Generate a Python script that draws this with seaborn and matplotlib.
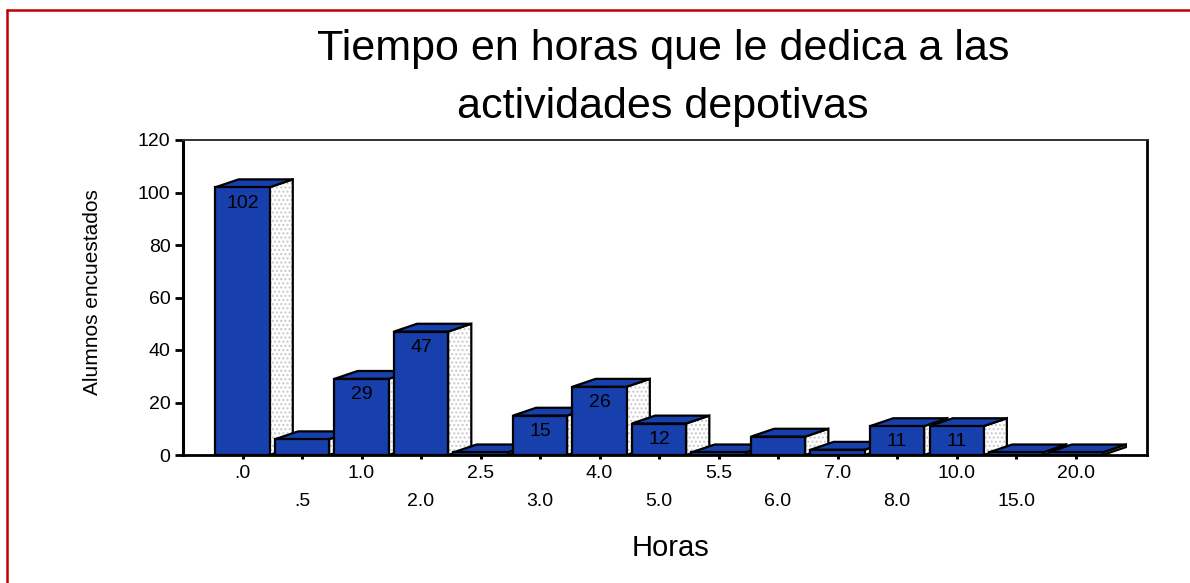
import matplotlib
matplotlib.use("Agg")
import matplotlib.pyplot as plt
from matplotlib.patches import Polygon
from matplotlib.lines import Line2D
import pandas as pd
import seaborn as sns

# --- data ---
horas = [".0", ".5", "1.0", "2.0", "2.5", "3.0", "4.0", "5.0",
         "5.5", "6.0", "7.0", "8.0", "10.0", "15.0", "20.0"]
alumnos = [102, 6, 29, 47, 1, 15, 26, 12, 1, 7, 2, 11, 11, 1, 1]
y_ticks = [0, 20, 40, 60, 80, 100, 120]

title = "Tiempo en horas que le dedica a las\nactividades depotivas"
x_label = "Horas"
y_label = "Alumnos encuestados"

BLUE = "#1740ac"

sns.set_style("white")
plt.rcParams["font.family"] = ["Liberation Sans", "DejaVu Sans"]
plt.rcParams["text.color"] = "black"
plt.rcParams["xtick.color"] = "black"
plt.rcParams["ytick.color"] = "black"

df = pd.DataFrame({"horas": horas, "alumnos": alumnos})

fig = plt.figure(figsize=(11.9, 5.83), dpi=100)
ax = fig.add_axes([183 / 1190, 1 - 455 / 583, 964 / 1190, 315 / 583])

sns.barplot(data=df, x="horas", y="alumnos", order=horas, color=BLUE,
            saturation=1, width=0.91, edgecolor="black", linewidth=1.6,
            errorbar=None, ax=ax)

# --- fake 3D: side and top faces for every bar ---
dx, dy = 0.39, 3.0
for i, p in enumerate(ax.patches):
    x0 = p.get_x()
    x1 = x0 + p.get_width()
    h = p.get_height()
    z = 3 + i * 0.1
    side = [(x1, 0), (x1 + dx, dy), (x1 + dx, h + dy), (x1, h)]
    top = [(x0, h), (x0 + dx, h + dy), (x1 + dx, h + dy), (x1, h)]
    ax.add_patch(Polygon(side, closed=True, facecolor="white",
                         edgecolor="#c8c8c8", linewidth=0, hatch="....",
                         zorder=z))
    ax.add_patch(Polygon(side, closed=True, fill=False, edgecolor="black",
                         linewidth=1.6, zorder=z + 0.01))
    ax.add_patch(Polygon(top, closed=True, facecolor=BLUE,
                         edgecolor="black", linewidth=1.6, zorder=z + 0.02))
    p.set_zorder(z + 0.03)
    if h >= 10:
        ax.text(x0 + p.get_width() / 2, h - 6, str(int(h)),
                ha="center", va="center", fontsize=14, zorder=z + 0.05)

ax.set_xlim(-1.0, 15.2)
ax.set_ylim(0, 120)
ax.set_yticks(y_ticks)
ax.set_xlabel("")
ax.set_ylabel("")

for s in ax.spines.values():
    s.set_visible(True)
    s.set_color("black")
ax.spines["left"].set_linewidth(2.2)
ax.spines["bottom"].set_linewidth(2.0)
ax.spines["right"].set_linewidth(2.0)
ax.spines["top"].set_linewidth(1.4)
ax.spines["top"].set_color("#333333")

ax.tick_params(axis="y", direction="out", length=6, width=2,
               labelsize=14, pad=3, left=True)
ax.tick_params(axis="x", direction="out", length=3, width=2.2,
               labelsize=14, bottom=True)
for i, t in enumerate(ax.xaxis.get_major_ticks()):
    t.set_pad(4 if i % 2 == 0 else 24)

fig.text(663 / 1190, 1 - 78 / 583, title, ha="center", va="center",
         fontsize=31, linespacing=1.55)
fig.text(671 / 1190, 1 - 548 / 583, x_label, ha="center", va="center",
         fontsize=21)
fig.text(93 / 1190, 1 - 292 / 583, y_label, ha="center", va="center",
         rotation=90, fontsize=15)

# red frame on the left and top
fig.add_artist(Line2D([7 / 1190, 7 / 1190], [0, 1 - 10 / 583],
                      transform=fig.transFigure, color="#c00000", lw=1.8))
fig.add_artist(Line2D([7 / 1190, 1], [1 - 10 / 583, 1 - 10 / 583],
                      transform=fig.transFigure, color="#c00000", lw=1.8))

fig.savefig("out.png", dpi=100)
